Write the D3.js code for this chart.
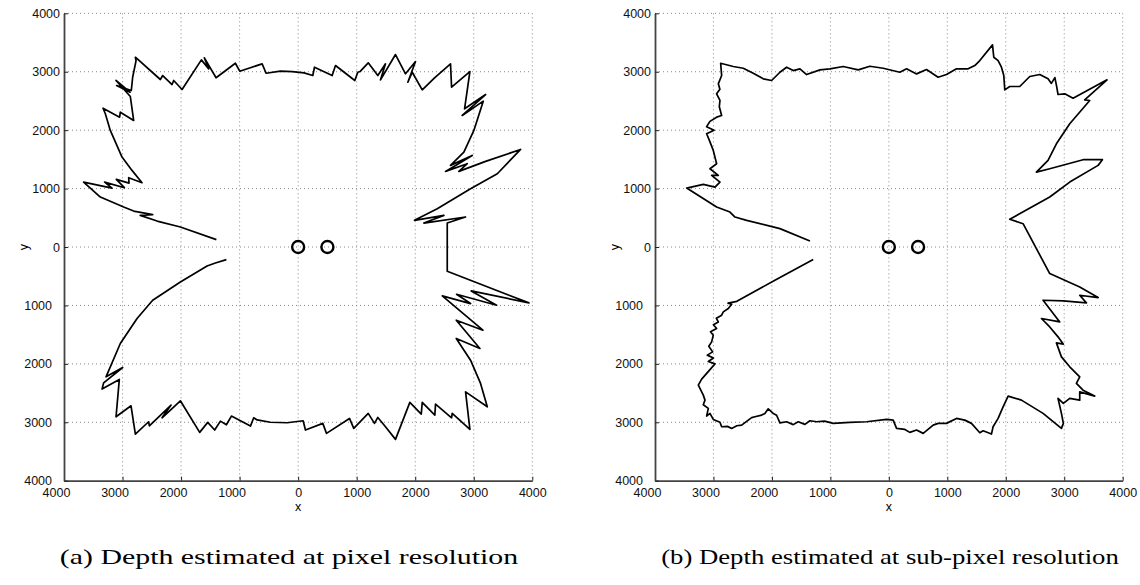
<!DOCTYPE html>
<html><head><meta charset="utf-8">
<script src="https://cdn.jsdelivr.net/npm/d3@7"></script>
<style>body{margin:0;background:#fff}</style></head>
<body><svg id="c" width="1140" height="585"></svg>
<script>
// ---------- data ----------
const tickValues = [-4000,-3000,-2000,-1000,0,1000,2000,3000,4000];
const cameraX = [0, 500];
const cameraY = [0, 0];
const captions = ["(a) Depth estimated at pixel resolution", "(b) Depth estimated at sub-pixel resolution"];

// (a) pixel resolution contour (x, y)
const pixelX = [-1397,-2012,-2410,-2697,-2485,-2810,-2981,-3379,-3665,-3180,-3306,-2969,-3106,-2889,-2895,-2667,-2838,-3009,-3209,-3294,-3333,-3050,-3038,-2810,-2867,-3111,-2872,-3101,-2850,-2827,-2769,-2781,-2354,-2314,-2154,-2126,-1983,-1653,-1528,-1602,-1402,-1072,-998,-615,-547,-303,-100,100,250,279,581,638,968,1019,1057,1197,1361,1492,1407,1663,1834,2005,1874,1949,2120,2330,2603,2621,2934,2843,3202,2803,3162,3002,2831,2603,2974,2518,2889,2746,3202,3800,3402,2945,2376,1988,2490,2148,2860,2547,2547,3942,2957,3390,2706,2945,2462,3156,2701,3105,2701,2945,3116,3231,2860,2934,2632,2621,2347,2335,2120,2103,1908,1663,1492,1361,1304,1197,950,877,484,421,125,85,-188,-474,-700,-759,-815,-1140,-1226,-1328,-1426,-1545,-1682,-2012,-2325,-2171,-2542,-2554,-2781,-2855,-3111,-3055,-3350,-3323,-2998,-3282,-3038,-2752,-2485,-2012,-1556,-1414,-1226];
const pixelY = [126,342,444,542,554,615,684,855,1111,1009,1111,1015,1157,1094,1186,1101,1311,1539,1995,2280,2376,2222,2308,2166,2576,2850,2650,2764,2679,2906,3191,3248,2867,2935,2781,2850,2696,3203,3049,3238,2896,3145,3009,3135,2974,3009,3003,2980,2935,3077,2935,3106,2850,2991,3003,3152,2935,3135,2861,3294,2964,3174,2821,2991,2690,2896,3135,2735,3003,2365,2610,2251,2496,1995,1624,1397,1567,1294,1425,1294,1465,1670,1254,998,656,456,542,410,513,410,-415,-957,-752,-997,-809,-968,-837,-1424,-1253,-1737,-1566,-1937,-2335,-2735,-2479,-3121,-2848,-2923,-2689,-2877,-2660,-2860,-2660,-3293,-3077,-2917,-3019,-2848,-3105,-2934,-3190,-3019,-3133,-2974,-3008,-3000,-2960,-2923,-3065,-2894,-3043,-2980,-3133,-3002,-3173,-2632,-2923,-2706,-3060,-2991,-3202,-2718,-2906,-2267,-2432,-2325,-2062,-2222,-1651,-1224,-911,-598,-325,-273,-216];

// (b) sub-pixel resolution contour (x, y)
const subpixelX = [-1350,-1863,-2432,-2632,-2718,-2946,-3458,-3174,-2974,-2889,-3031,-2917,-3060,-2946,-3003,-3080,-3117,-2990,-3117,-3060,-2946,-2860,-2900,-2889,-2946,-2890,-2917,-2860,-2877,-2661,-2490,-2319,-2148,-2005,-1863,-1749,-1635,-1521,-1407,-1179,-1009,-781,-524,-325,-97,188,303,474,644,843,986,1157,1356,1470,1556,1773,1795,1869,1926,1966,1983,2068,2239,2410,2581,2723,2780,2840,2870,2894,3009,3151,3732,3350,3436,3094,2866,2723,2524,2752,3322,3653,3579,3094,2752,2068,2296,2752,3265,3579,3265,3379,2985,2638,2923,2610,2752,2894,2985,2866,2952,3094,3265,3208,3322,3521,3265,3265,3094,2985,2894,2952,2985,2952,2638,2268,2040,1954,1869,1783,1755,1612,1556,1413,1299,1157,986,843,758,587,474,359,274,132,74,-39,-381,-667,-952,-1100,-1236,-1350,-1436,-1550,-1635,-1749,-1863,-1920,-1977,-2063,-2120,-2176,-2290,-2347,-2518,-2600,-2689,-2760,-2860,-2889,-3003,-3060,-3117,-3088,-3174,-3145,-3174,-3259,-3202,-2974,-3088,-3000,-3105,-3014,-3080,-3031,-3003,-3050,-2946,-3000,-2917,-2950,-2860,-2832,-2746,-2689,-2750,-2600,-1949,-1294];
const subpixelY = [103,314,456,513,598,684,1009,1072,1026,1111,1226,1226,1340,1425,1653,1850,1938,2000,2060,2150,2222,2251,2400,2508,2622,2700,2793,2935,3145,3089,3060,2974,2878,2850,2991,3077,3020,3050,2952,3032,3049,3089,3032,3094,3060,2991,3049,2963,3037,2906,2952,3049,3049,3106,3191,3459,3248,3191,3077,2935,2690,2747,2747,2918,2952,2878,2800,2900,2750,2610,2622,2547,2861,2519,2508,2109,1767,1482,1282,1340,1494,1494,1397,1111,855,474,399,-455,-684,-865,-826,-957,-923,-911,-1282,-1224,-1368,-1538,-1663,-1641,-1880,-2051,-2222,-2335,-2450,-2552,-2479,-2621,-2592,-2677,-2592,-2848,-3019,-3105,-2848,-2621,-2552,-2735,-2934,-3077,-3202,-3145,-3179,-3019,-2963,-2934,-3019,-3019,-3048,-3190,-3133,-3173,-3122,-3105,-2963,-2951,-2991,-3002,-3019,-2980,-2991,-2974,-3036,-2991,-3040,-2991,-3010,-2880,-2848,-2770,-2850,-2877,-2906,-2920,-3048,-3060,-3105,-3070,-3077,-3000,-2951,-2848,-2894,-2763,-2700,-2621,-2535,-2364,-2262,-2000,-1960,-1900,-1851,-1795,-1700,-1624,-1509,-1450,-1395,-1330,-1282,-1220,-1168,-1111,-1053,-979,-960,-930,-569,-215];

// ---------- drawing ----------
const svg = d3.select("#c");
const panels = [
  {left:64, right:532.3, xs:pixelX, ys:pixelY, cap:captions[0], capX:289},
  {left:655, right:1122.7, xs:subpixelX, ys:subpixelY, cap:captions[1], capX:890}
];
const plotTop = 13.3, plotBottom = 480.7;
const fmt = d => String(Math.abs(d));

panels.forEach(p => {
  const x = d3.scaleLinear().domain([-4000,4000]).range([p.left,p.right]);
  const y = d3.scaleLinear().domain([4000,-4000]).range([plotTop,plotBottom]);
  const g = svg.append("g");

  // grid
  g.selectAll(".vg").data(tickValues.filter(t=>t>-4000)).join("line")
    .attr("x1",d=>x(d)).attr("x2",d=>x(d)).attr("y1",plotTop).attr("y2",plotBottom)
    .attr("stroke","#8a8a8a").attr("stroke-width",1).attr("stroke-dasharray","1,3");
  g.selectAll(".hg").data(tickValues.filter(t=>t>-4000)).join("line")
    .attr("x1",p.left).attr("x2",p.right).attr("y1",d=>y(d)).attr("y2",d=>y(d))
    .attr("stroke","#8a8a8a").attr("stroke-width",1).attr("stroke-dasharray","1,3");

  // axes
  const ax = g.append("g").attr("transform",`translate(0,${plotBottom})`)
    .call(d3.axisBottom(x).tickValues(tickValues).tickFormat(fmt).tickSizeInner(-4).tickSizeOuter(0).tickPadding(7));
  const ay = g.append("g").attr("transform",`translate(${p.left},0)`)
    .call(d3.axisLeft(y).tickValues(tickValues).tickFormat(fmt).tickSizeInner(-4).tickSizeOuter(0).tickPadding(4));
  [ax,ay].forEach(a=>{
    a.select(".domain").attr("stroke","#444").attr("stroke-width",1.8);
    a.selectAll(".tick line").attr("stroke","#222").attr("stroke-width",1);
    a.selectAll("text").attr("font-family","'Liberation Sans', Arial, sans-serif").attr("font-size","12.5px").attr("fill","#111");
  });
  ax.selectAll(".tick text").attr("dx",d=>d<0?-8:0);
  ay.selectAll(".tick text").attr("dx",d=>d<0?-8:0);

  // axis labels
  g.append("text").attr("x",x(0)).attr("y",511).attr("text-anchor","middle")
    .attr("font-family","'Liberation Sans', Arial, sans-serif").attr("font-size","12.5px").text("x");
  g.append("text").attr("transform",`translate(${p.left-36},${y(0)}) rotate(-90)`).attr("text-anchor","middle")
    .attr("font-family","'Liberation Sans', Arial, sans-serif").attr("font-size","12.5px").text("y");

  // contour
  const pts = p.xs.map((v,i)=>[v,p.ys[i]]);
  g.append("path").datum(pts)
    .attr("d", d3.line().x(d=>x(d[0])).y(d=>y(d[1])))
    .attr("fill","none").attr("stroke","#000").attr("stroke-width",1.7).attr("stroke-linejoin","round");

  // cameras
  g.selectAll(".cam").data(cameraX).join("circle")
    .attr("cx",(d)=>x(d)).attr("cy",(d,i)=>y(cameraY[i])).attr("r",6)
    .attr("fill","none").attr("stroke","#000").attr("stroke-width",2.4);

  // caption
  g.append("text").attr("x",p.capX).attr("y",564).attr("text-anchor","middle")
    .attr("font-family","'Liberation Serif', 'DejaVu Serif', serif").attr("font-size","22px")
    .attr("textLength", p.right - p.left - 10).attr("lengthAdjust","spacingAndGlyphs")
    .text(p.cap);
});
</script></body></html>
